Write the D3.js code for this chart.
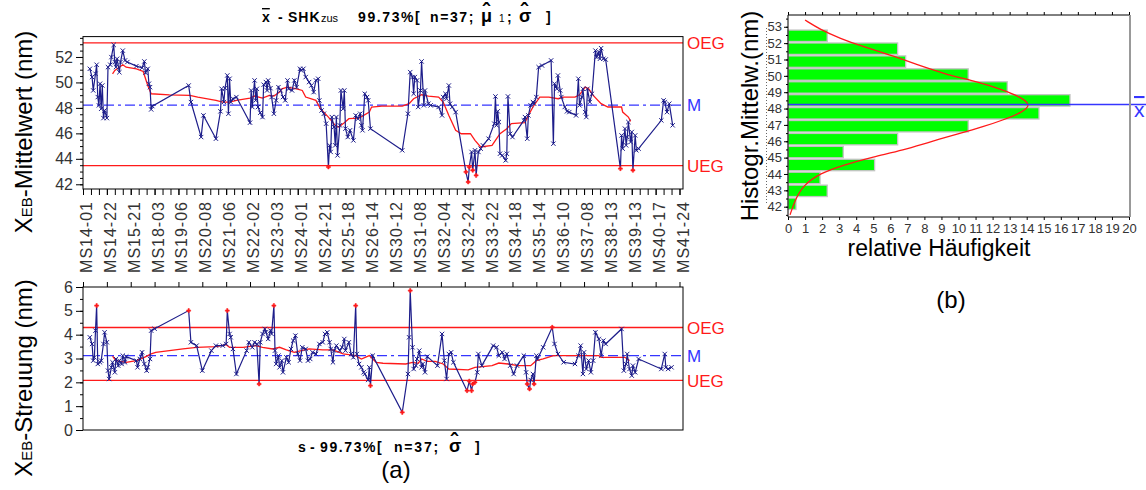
<!DOCTYPE html>
<html><head><meta charset="utf-8">
<script src="https://cdn.jsdelivr.net/npm/d3@7"></script>
<style>
body{margin:0;background:#fff}
svg{display:block;font-family:Arial,"Liberation Sans",sans-serif}
</style>
</head><body><div id="chart"></div>
<script>
// ---- data ----
const categories = ["MS14-01","MS14-22","MS15-21","MS18-03","MS19-06","MS20-08","MS21-06","MS22-02","MS23-03",
  "MS24-01","MS24-21","MS25-18","MS26-14","MS30-12","MS31-08","MS32-04","MS32-24","MS33-22","MS34-18",
  "MS35-14","MS36-10","MS37-08","MS38-13","MS39-13","MS40-17","MS41-24"];
const samplesPerLabel = 21;

// sample means (top chart)
const meanIdx = [6,8,9,11,12,13,14,15,16,17,18,19,21,22,24,25,27,28,29,30,32,33,35,37,39,47,52,54,55,57,58,59,60,61,
  93,95,104,106,117,121,122,124,125,127,128,129,130,132,135,147,148,149,151,152,153,154,156,158,159,161,162,163,165,166,168,170,172,174,
  176,178,180,181,184,186,188,191,192,194,196,199,201,203,205,207,208,210,212,214,216,217,218,219,221,222,223,224,226,227,229,230,231,233,235,238,240,242,244,245,246,248,250,251,253,
  281,286,288,290,291,292,294,295,297,298,300,301,304,306,313,316,317,319,320,322,323,325,328,337,339,340,342,343,345,346,348,350,
  352,357,362,363,364,365,366,367,369,372,373,374,376,378,388,389,391,392,394,396,397,399,401,404,412,414,415,417,418,420,421,424,426,428,
  434,436,437,439,440,442,443,444,446,448,451,452,454,455,456,458,460,473,474,475,477,478,479,480,482,483,484,486,487,489,509,511,512,514,516,519];
const meanVal = [51.07,50.42,49.37,50.68,51.39,48.85,48.2,49.9,47.93,49.76,47.2,47.8,47.2,51.2,51.39,51.99,52.95,51.6,51.2,51.86,50.8,51.6,52.5,51.73,51.6,51.28,51.15,51.65,50.76,51.07,49.9,49.63,47.88,48.14,
  49.76,48.46,45.71,47.41,45.58,47.73,49.5,48.46,49.55,50.55,47.54,50.29,48.46,48.72,48.85,46.84,49.37,48.07,50.16,48.59,49.5,48.07,47.62,47.28,49.82,50.03,49.37,50.16,49.55,48.85,47.54,48.59,49.63,49.37,
  48.85,48.59,50.16,49.5,49.37,50.16,49.63,51.07,50.94,51.07,50.42,50.03,49.76,49.24,50.16,50.29,48.59,47.8,47.54,46.76,43.36,45.06,44.54,47.28,46.5,45.06,47.28,44.27,46.63,49.37,47.93,49.37,46.37,45.71,46.24,45.45,47.41,47.15,47.54,46.63,46.24,49.11,48.85,48.59,46.37,
  44.67,47.54,50.81,50.42,49.11,50.42,50.16,48.07,49.37,51.65,48.2,49.37,48.33,48.2,48.07,47.41,48.85,49.11,48.72,49.76,48.33,48.07,47.67,42.97,42.18,43.36,44.54,43.1,44.67,42.7,44.54,44.8,
  45.06,45.58,46.76,48.9,46.63,47.73,46.89,44.4,44.27,43.88,44.4,48.9,45.97,45.71,47.02,47.28,45.58,47.41,48.2,48.46,48.33,48.85,51.2,51.33,51.73,45.19,49.9,49.5,50.55,49.37,48.85,48.07,47.73,47.67,
  47.41,50.29,48.2,48.85,49.5,47.67,47.28,49.5,48.46,49.11,52.5,51.99,52.38,51.86,52.69,51.86,51.8,43.23,45.84,44.8,46.37,45.06,45.71,46.89,45.32,46.11,43.1,45.84,44.67,44.8,47.02,48.59,48.46,47.67,48.33,46.63];
// moving average of means (red line, top)
const meanAvgIdx = [26,28,35,38,47,53,57,60,76,94,101,117,123,129,135,147,151,158,164,168,173,175,180,188,193,196,205,209,216,222,225,230,234,243,252,254,263,281,287,291,298,304,313,317,322,328,333,341,345,350,
  360,363,367,373,377,389,392,396,402,410,418,423,433,437,442,445,449,456,462,474,475,480,482];
const meanAvgVal = [50.68,50.94,51.39,51.2,51.07,50.86,49.76,49.11,49.03,48.98,48.85,48.59,48.46,48.46,48.59,48.77,48.93,48.77,48.98,48.93,49.24,49.5,49.63,49.5,49.37,48.85,48.59,47.93,47.28,46.63,46.5,46.84,47.15,47.2,47.67,48.07,48.14,48.14,48.33,48.72,49.03,48.93,48.85,48.46,47.41,46.24,45.97,45.97,45.45,44.93,
  45.06,45.45,45.97,46.37,46.76,46.84,47.41,48.07,48.85,48.85,48.72,48.85,48.85,49.03,49.63,49.5,48.98,48.33,48.07,48.07,47.67,47.28,46.94];
const meanLimits = {OEG: 53.1, M: 48.22, UEG: 43.46};

// sample standard deviations (bottom chart)
const sdIdx = [6,8,9,10,11,12,13,15,16,18,19,21,22,23,25,26,28,29,31,32,34,35,37,38,47,48,50,52,54,56,57,59,60,63,
  93,95,100,105,113,117,123,126,127,129,130,132,135,144,146,149,151,153,155,156,158,160,161,163,165,166,168,169,170,172,173,175,176,179,181,183,185,187,189,191,193,196,198,200,202,205,208,211,213,215,217,218,220,221,223,226,228,230,231,234,236,238,240,241,243,245,247,248,251,252,253,255,
  281,286,287,288,290,291,293,294,296,298,299,301,303,312,316,318,320,322,324,326,338,340,342,343,345,347,348,351,361,364,366,369,371,373,376,379,382,388,390,391,393,394,396,397,399,400,405,413,415,418,423,
  433,436,438,440,441,443,445,447,449,451,454,456,458,460,474,476,478,479,481,483,484,486,489,509,512,513,515,518];
const sdVal = [3.89,3.61,2.91,3.05,4.17,5.22,2.77,2.84,2.91,3.61,4.1,3.68,2.49,2.14,2.63,2.84,2.42,2.98,2.7,2.91,2.77,3.12,2.84,3.08,2.91,2.63,2.98,3.26,2.77,2.49,2.63,2.98,4.17,4.25,
  5.01,3.68,3.54,2.49,3.33,3.54,3.54,3.61,5.01,4.03,3.89,3.4,2.35,3.33,3.68,3.47,3.68,3.61,1.93,3.68,4.03,4.24,4.1,3.82,4.17,4.03,5.22,3.33,2.77,3.12,2.63,2.91,2.42,3.05,2.84,3.4,3.75,3.96,3.19,2.91,3.47,3.4,2.91,2.98,3.26,3.19,3.61,3.68,4.03,4.1,3.68,3.4,2.84,3.33,3.54,3.33,3.47,3.82,3.33,3.68,3.19,3.05,5.22,3.19,2.77,2.63,2.42,2.35,2.1,2.63,1.86,3.12,
  0.74,2.35,3.89,5.85,3.47,2.56,2.7,2.98,3.33,2.63,2.77,2.42,3.08,2.7,4.03,2.91,2.14,3.19,3.26,2.84,1.65,2.05,1.65,1.93,2.0,2.42,3.19,2.7,3.54,3.47,3.12,3.26,2.98,3.19,2.7,2.35,2.7,3.12,2.42,1.93,1.72,2.1,2.35,1.93,3.12,2.98,3.47,4.31,3.61,3.19,2.84,
  2.77,3.12,3.54,2.35,3.26,2.56,2.91,2.42,2.91,4.1,3.82,3.12,3.75,3.61,4.24,2.49,2.77,3.19,2.56,2.28,2.7,2.42,2.98,2.56,3.19,2.63,2.56,2.63];
const sdAvgIdx = [26,29,38,47,54,60,64,76,88,100,117,126,129,141,152,158,167,173,179,186,192,199,211,220,229,234,240,245,252,258,264,284,290,295,298,303,310,317,322,339,345,360,366,374,383,394,399,405,414,426,454,456,477,481];
const sdAvgVal = [3.1,2.91,2.84,2.91,3.05,3.19,3.26,3.33,3.4,3.47,3.5,3.58,3.47,3.47,3.54,3.47,3.4,3.47,3.36,3.26,3.33,3.4,3.36,3.36,3.19,3.16,3.12,2.98,3.12,2.84,2.8,2.77,2.84,2.8,2.98,2.88,2.88,2.77,2.56,2.52,2.63,2.7,2.81,2.77,2.7,2.7,2.91,2.98,3.12,3.12,3.12,3.05,3.05,2.91];
const sdLimits = {OEG: 4.3, M: 3.12, UEG: 2.08};

// histogram of means (relative frequency in %)
const binEdges = [41.8,42.59,43.38,44.17,44.96,45.75,46.54,47.33,48.12,48.91,49.7,50.49,51.28,52.07,52.86];
const binFreq = [0.47,2.3,1.88,5.08,3.24,6.43,10.57,14.72,16.54,12.86,10.57,6.9,6.43,2.3];
const curveVal = [41.5,42.41,43.32,44.04,44.55,45.05,45.46,45.97,46.48,46.89,47.3,47.8,48.27,48.82,49.29,49.74,50.15,50.7,51.27,51.78,52.29,52.84,53.41];
const curveFreq = [0.12,0.41,0.9,1.88,3.24,5.0,6.76,8.33,10.09,11.45,12.63,13.8,14.29,13.41,12.24,10.67,9.1,7.55,5.98,4.42,3.05,1.88,1.0];
const histMean = 48.25;

// ---- layout ----
const W = 1146, H = 490;
const svg = d3.select("#chart").append("svg").attr("width", W).attr("height", H);

const navy = "#1d1d8a", red = "#ff1a1a", blue = "#3535ff", tickCol = "#333";
const x = d3.scaleLinear().domain([0, categories.length - 1].map(d => d * samplesPerLabel)).range([83, 679.5]);
const yTop = d3.scaleLinear().domain([41.63, 53.6]).range([189, 36.6]);
const yBot = d3.scaleLinear().domain([0, 6]).range([430, 287]);

function styleAxis(g, size) {
  g.select(".domain").remove();
  g.selectAll(".tick line").attr("stroke", "#000");
  g.selectAll("text").attr("fill", tickCol).style("font-size", size + "px");
}

function controlChart(y, idx, val, avgIdx, avgVal, lim, majors) {
  const [y0, y1] = y.range();
  const g = svg.append("g");
  // minor y ticks
  g.append("g").attr("transform", "translate(83,0)")
    .call(d3.axisLeft(y).tickValues(d3.range(Math.ceil(y.domain()[0] * 2) / 2, y.domain()[1], 0.5)).tickSize(3).tickFormat(""))
    .call(a => styleAxis(a, 16));
  g.append("g").attr("transform", "translate(83,0)")
    .call(d3.axisLeft(y).tickValues(majors).tickSize(7).tickPadding(3).tickFormat(d3.format("d")))
    .call(a => styleAxis(a, 16));

  // limit lines
  ["OEG", "UEG"].forEach(k => {
    g.append("line").attr("x1", 83).attr("x2", 683).attr("y1", y(lim[k])).attr("y2", y(lim[k]))
      .attr("stroke", red).attr("stroke-width", 1.3);
  });
  g.append("line").attr("x1", 83).attr("x2", 683).attr("y1", y(lim.M)).attr("y2", y(lim.M))
    .attr("stroke", blue).attr("stroke-width", 1.3).attr("stroke-dasharray", "10,4,3,4");
  [["OEG", red], ["M", blue], ["UEG", red]].forEach(([k, c]) => {
    g.append("text").attr("x", 687).attr("y", y(lim[k])).attr("dy", "0.36em")
      .attr("fill", c).style("font-size", "17px").text(k);
  });

  // moving average
  const pts = idx.map((d, i) => [d, val[i]]);
  g.append("path").datum(avgIdx.map((d, i) => [d, avgVal[i]]))
    .attr("d", d3.line().x(d => x(d[0])).y(d => y(d[1])))
    .attr("fill", "none").attr("stroke", red).attr("stroke-width", 1.3);
  // series
  g.append("path").datum(pts)
    .attr("d", d3.line().x(d => x(d[0])).y(d => y(d[1])))
    .attr("fill", "none").attr("stroke", navy).attr("stroke-width", 1.2);
  const out = d => d[1] > lim.OEG || d[1] < lim.UEG;
  g.append("g").selectAll("path").data(pts.filter(d => !out(d))).join("path")
    .attr("transform", d => `translate(${x(d[0])},${y(d[1])})`)
    .attr("d", d3.symbol(d3.symbolX, 14)).attr("fill", "none").attr("stroke", navy).attr("stroke-width", 1);
  g.append("g").selectAll("path").data(pts.filter(out)).join("path")
    .attr("transform", d => `translate(${x(d[0])},${y(d[1])})`)
    .attr("d", d3.symbol(d3.symbolCross, 9)).attr("fill", red).attr("stroke", red).attr("stroke-width", 0.5);

  // frame
  g.append("rect").attr("x", 83).attr("y", y1).attr("width", 600).attr("height", y0 - y1)
    .attr("fill", "none").attr("stroke", "#000").attr("stroke-width", 1);
  return g;
}

// top chart
const topG = controlChart(yTop, meanIdx, meanVal, meanAvgIdx, meanAvgVal, meanLimits, d3.range(42, 53, 2));
topG.append("g").attr("transform", "translate(0,189)")
  .call(d3.axisBottom(x).tickValues(d3.range(0, 526, 7)).tickSize(6).tickFormat(""))
  .call(a => styleAxis(a, 16));
const xl = topG.append("g").attr("transform", "translate(0,189)")
  .call(d3.axisBottom(x).tickValues(categories.map((c, i) => i * samplesPerLabel)).tickSize(6)
    .tickFormat((d, i) => categories[i]))
  .call(a => styleAxis(a, 16));
xl.selectAll("text").attr("transform", "rotate(-90)").attr("text-anchor", "end")
  .attr("x", -12).attr("y", 8.5).attr("dy", 0).style("letter-spacing", "1px");

// bottom chart
const botG = controlChart(yBot, sdIdx, sdVal, sdAvgIdx, sdAvgVal, sdLimits, d3.range(0, 7, 1));
botG.append("g").attr("transform", "translate(0,287)")
  .call(d3.axisTop(x).tickValues(categories.map((c, i) => i * samplesPerLabel)).tickSize(5).tickFormat(""))
  .call(a => styleAxis(a, 16));

// titles: each piece placed at its own x, hats as raised tspans in the same text
function titlePieces(yb, pieces) {
  const t = svg.append("text").style("font-size", "14px").style("font-weight", "bold");
  pieces.forEach(p => {
    const s = t.append("tspan").attr("x", p.x).attr("y", yb).text(p.t);
    if (p.size) s.style("font-size", p.size + "px");
    if (p.normal) s.style("font-weight", "normal");
    if (p.ls) s.style("letter-spacing", p.ls + "px");
    if (p.over) s.style("text-decoration", "overline");
    if (p.hat) t.append("tspan").attr("x", p.x + 1.5).attr("y", yb - 3)
      .style("font-size", "22px").text("\u02c6");
  });
}
titlePieces(22, [
  {x: 262, t: "x", over: true}, {x: 278, t: "-"}, {x: 288, t: "SHK", ls: 1},
  {x: 321, t: "zus", size: 11, normal: true}, {x: 358, t: "99.73%[", ls: 1.6}, {x: 430, t: "n=37;", ls: 1.6},
  {x: 481, t: "\u03bc", size: 18, hat: true}, {x: 499, t: "1", size: 10, normal: true}, {x: 507, t: ";"},
  {x: 519, t: "\u03c3", size: 18, hat: true}, {x: 546, t: "]"}
]);
titlePieces(452, [
  {x: 298, t: "s"}, {x: 310, t: "-"}, {x: 320, t: "99.73%[", ls: 1.6}, {x: 394, t: "n=37;", ls: 1.8},
  {x: 449, t: "\u03c3", size: 18, hat: true}, {x: 475, t: "]"}
]);

function yTitle(xp, yp, main, rest) {
  const t = svg.append("text").attr("transform", `translate(${xp},${yp}) rotate(-90)`)
    .attr("text-anchor", "middle").style("font-size", "24px");
  t.append("tspan").text(main);
  t.append("tspan").style("font-size", "15px").text("EB");
  t.append("tspan").text(rest);
}
yTitle(32, 132, "X", "-Mittelwert (nm)");
yTitle(32, 378, "X", "-Streuung (nm)");
svg.append("text").attr("x", 396).attr("y", 478).attr("text-anchor", "middle").style("font-size", "24px").text("(a)");

// ---- histogram (b) ----
const xH = d3.scaleLinear().domain([0, 20]).range([788, 1129]);
const yH = d3.scaleLinear().domain([41.37, 53.72]).range([217, 15]);
const hg = svg.append("g");

hg.append("line").attr("x1", 766.5).attr("x2", 766.5).attr("y1", 28).attr("y2", 205)
  .attr("stroke", "#666").attr("stroke-dasharray", "1,2");

hg.append("g").selectAll("rect").data(binFreq).join("rect")
  .attr("x", xH(0)).attr("y", (d, i) => yH(binEdges[i + 1]) + 1)
  .attr("width", d => xH(d) - xH(0)).attr("height", (d, i) => yH(binEdges[i]) - yH(binEdges[i + 1]) - 1.5)
  .attr("fill", "#00ff00").attr("stroke", "#c4c4c4").attr("stroke-width", 1.3);

hg.append("path").datum(curveVal.map((v, i) => [curveFreq[i], v]))
  .attr("d", d3.line().curve(d3.curveBasis).x(d => xH(d[0])).y(d => yH(d[1])))
  .attr("fill", "none").attr("stroke", red).attr("stroke-width", 1.3);

hg.append("line").attr("x1", xH(0)).attr("x2", W).attr("y1", yH(histMean)).attr("y2", yH(histMean))
  .attr("stroke", blue).attr("stroke-width", 1.5);
hg.append("text").attr("x", 1134).attr("y", 117).attr("fill", blue).style("font-size", "21px")
  .style("text-decoration", "overline").text("x");

hg.append("g").attr("transform", "translate(788,0)")
  .call(d3.axisLeft(yH).tickValues(d3.range(41.5, 53.7, 0.5)).tickSize(2).tickFormat(""))
  .call(a => styleAxis(a, 13));
hg.append("g").attr("transform", "translate(788,0)")
  .call(d3.axisLeft(yH).tickValues(d3.range(42, 54, 1)).tickSize(4).tickPadding(2).tickFormat(d3.format("d")))
  .call(a => styleAxis(a, 13));
hg.append("g").attr("transform", "translate(0,217)")
  .call(d3.axisBottom(xH).tickValues(d3.range(0, 21, 1)).tickSize(3).tickPadding(4).tickFormat(d3.format("d")))
  .call(a => styleAxis(a, 13));
hg.append("g").attr("transform", "translate(0,15)")
  .call(d3.axisTop(xH).tickValues(d3.range(0, 21, 1)).tickSize(3).tickFormat(""))
  .call(a => styleAxis(a, 13));

hg.append("line").attr("x1", 788).attr("x2", 1129).attr("y1", 15).attr("y2", 15).attr("stroke", "#000");
hg.append("line").attr("x1", 788).attr("x2", 1129).attr("y1", 217).attr("y2", 217).attr("stroke", "#000");
hg.append("line").attr("x1", 788).attr("x2", 788).attr("y1", 15).attr("y2", 217).attr("stroke", "#000");
hg.append("line").attr("x1", 1130).attr("x2", 1130).attr("y1", 15).attr("y2", 217).attr("stroke", "#999").attr("stroke-width", 2);

svg.append("text").attr("transform", "translate(758,116) rotate(-90)").attr("text-anchor", "middle")
  .style("font-size", "24px").text("Histogr.Mittelw.(nm)");
svg.append("text").attr("x", 939).attr("y", 256).attr("text-anchor", "middle")
  .style("font-size", "23px").text("relative Häufigkeit");
svg.append("text").attr("x", 951).attr("y", 308).attr("text-anchor", "middle")
  .style("font-size", "24px").text("(b)");
</script>
</body></html>
